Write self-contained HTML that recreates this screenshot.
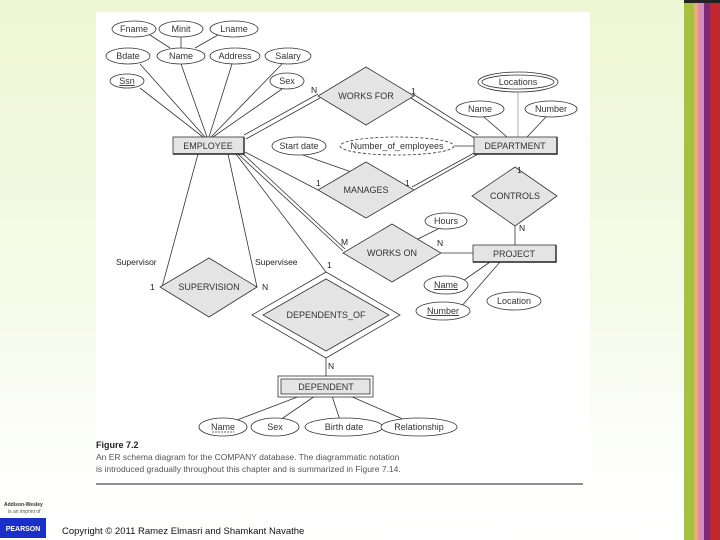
<!DOCTYPE html>
<html><head><meta charset="utf-8"><style>
html,body{margin:0;padding:0}
body{width:720px;height:540px;background:#fbfdf6;position:relative;overflow:hidden;font-family:"Liberation Sans",sans-serif}
svg{position:absolute;left:0;top:0}
</style></head><body>
<svg width="720" height="540" viewBox="0 0 720 540" font-family="Liberation Sans, sans-serif">
<defs>
<linearGradient id="v" x1="0" y1="0" x2="0" y2="1"><stop offset="0" stop-color="#eef7d4"/><stop offset="0.5" stop-color="#f5fae6"/><stop offset="0.85" stop-color="#fdfefa"/><stop offset="1" stop-color="#ffffff"/></linearGradient>
</defs>
<rect x="0" y="0" width="684" height="540" fill="url(#v)"/>
<rect x="96" y="12" width="494" height="476" fill="#fff"/>
<!-- right stripes -->
<rect x="684" y="0" width="10" height="540" fill="#a8c040"/>
<rect x="694" y="0" width="4" height="540" fill="#e8b070"/>
<rect x="698" y="0" width="6" height="540" fill="#d88ab8"/>
<rect x="704" y="0" width="6" height="540" fill="#7a2a78"/>
<rect x="710" y="0" width="10" height="540" fill="#c02830"/>
<rect x="684" y="0" width="36" height="3" fill="#222"/>

<g stroke="#333" stroke-width="0.8" fill="none">
<line x1="181" y1="36" x2="181" y2="48"/>
<line x1="150" y1="35" x2="170" y2="48"/><line x1="218" y1="35" x2="195" y2="48"/>
<line x1="140" y1="64" x2="205" y2="137"/>
<line x1="181" y1="64" x2="207" y2="137"/>
<line x1="232" y1="64" x2="209" y2="137"/>
<line x1="282" y1="64" x2="211" y2="137"/>
<line x1="140" y1="88" x2="203" y2="137"/>
<line x1="282" y1="89" x2="213" y2="137"/>
<line x1="244" y1="135" x2="318" y2="94"/><line x1="246" y1="139" x2="320" y2="98"/>
<line x1="413" y1="94" x2="478" y2="135"/><line x1="411" y1="98" x2="476" y2="139"/>
<line x1="518" y1="91" x2="518" y2="137" stroke="#999"/>
<line x1="484" y1="117" x2="507" y2="137"/>
<line x1="546" y1="117" x2="527" y2="137"/>
<line x1="455" y1="146" x2="474" y2="146"/>
<line x1="300" y1="154" x2="360" y2="175"/>
<line x1="245" y1="152" x2="318" y2="190"/>
<line x1="414" y1="190" x2="478" y2="154"/><line x1="412" y1="187" x2="476" y2="152"/>
<line x1="515" y1="226" x2="515" y2="245"/>
<line x1="238" y1="154" x2="343" y2="251"/><line x1="241" y1="152" x2="345" y2="249"/>
<line x1="441" y1="253" x2="473" y2="253"/>
<line x1="416" y1="240" x2="438" y2="229"/>
<line x1="490" y1="262" x2="460" y2="283"/>
<line x1="500" y1="262" x2="460" y2="308"/>
<line x1="198" y1="154" x2="162" y2="287"/>
<line x1="228" y1="154" x2="257" y2="287"/>
<line x1="236" y1="154" x2="326" y2="272"/>
<line x1="326" y1="358" x2="326" y2="376"/>
<line x1="300" y1="396" x2="237" y2="420"/>
<line x1="315" y1="396" x2="280" y2="420"/>
<line x1="332" y1="396" x2="340" y2="420"/>
<line x1="350" y1="396" x2="405" y2="420"/>
</g>

<g stroke="#333" stroke-width="0.8" fill="#fff">
<ellipse cx="134" cy="29" rx="22" ry="8"/>
<ellipse cx="181" cy="29" rx="22" ry="8"/>
<ellipse cx="234" cy="29" rx="24" ry="8"/>
<ellipse cx="128" cy="56" rx="22" ry="8"/>
<ellipse cx="181" cy="56" rx="24" ry="8"/>
<ellipse cx="235" cy="56" rx="25" ry="8"/>
<ellipse cx="288" cy="56" rx="23" ry="8"/>
<ellipse cx="127" cy="81" rx="17" ry="7"/>
<ellipse cx="287" cy="81" rx="17" ry="8"/>
<ellipse cx="518" cy="82" rx="40" ry="10"/><ellipse cx="518" cy="82" rx="36" ry="7"/>
<ellipse cx="480" cy="109" rx="24" ry="8"/>
<ellipse cx="551" cy="109" rx="26" ry="8"/>
<ellipse cx="299" cy="146" rx="27" ry="9"/>
<ellipse cx="397" cy="146" rx="57" ry="9" stroke-dasharray="3,2"/>
<ellipse cx="446" cy="221" rx="21" ry="8"/>
<ellipse cx="446" cy="285" rx="22" ry="9"/>
<ellipse cx="443" cy="311" rx="27" ry="9"/>
<ellipse cx="514" cy="301" rx="27" ry="9"/>
<ellipse cx="223" cy="427" rx="24" ry="9"/>
<ellipse cx="275" cy="427" rx="24" ry="9"/>
<ellipse cx="344" cy="427" rx="39" ry="9"/>
<ellipse cx="419" cy="427" rx="38" ry="9"/>
</g>

<g stroke="#333" stroke-width="0.8" fill="#e4e4e4">
<polygon points="366,67 414,96 366,125 318,96"/>
<polygon points="366,162 414,190 366,218 318,190"/>
<polygon points="515,167 557,196 515,226 472,196"/>
<polygon points="392,224 441,253 392,282 343,253"/>
<polygon points="209,258 257,287 209,317 160,287"/>
<polygon points="326,272 400,315 326,358 252,315" fill="#fff"/>
<polygon points="326,279 389,315 326,351 263,315"/>
<rect x="173" y="137" width="71" height="17"/>
<rect x="474" y="137" width="83" height="17"/>
<rect x="473" y="245" width="83" height="17"/>
<rect x="278" y="376" width="95" height="21" fill="#fff"/>
<rect x="281" y="379" width="89" height="15"/>
</g>
<g stroke="#222" stroke-width="1.4" fill="none">
<polyline points="173,154 244,154 244,137"/>
<polyline points="474,154 557,154 557,137"/>
<polyline points="473,262 556,262 556,245"/>
</g>

<g font-size="9" fill="#333" text-anchor="middle">
<text x="134" y="32">Fname</text><text x="181" y="32">Minit</text><text x="234" y="32">Lname</text>
<text x="128" y="59">Bdate</text><text x="181" y="59">Name</text><text x="235" y="59">Address</text><text x="288" y="59">Salary</text>
<text x="127" y="84" text-decoration="underline">Ssn</text><text x="287" y="84">Sex</text>
<text x="518" y="85">Locations</text><text x="480" y="112">Name</text><text x="551" y="112">Number</text>
<text x="299" y="149">Start date</text><text x="397" y="149">Number_of_employees</text>
<text x="446" y="224">Hours</text>
<text x="446" y="288" text-decoration="underline">Name</text>
<text x="443" y="314" text-decoration="underline">Number</text>
<text x="514" y="304">Location</text>
<text x="223" y="430">Name</text><text x="275" y="430">Sex</text><text x="344" y="430">Birth date</text><text x="419" y="430">Relationship</text>
<text x="208" y="149">EMPLOYEE</text><text x="515" y="149">DEPARTMENT</text><text x="514" y="257">PROJECT</text>
<text x="326" y="390">DEPENDENT</text>
<text x="366" y="99">WORKS FOR</text><text x="366" y="193">MANAGES</text><text x="515" y="199">CONTROLS</text>
<text x="392" y="256">WORKS ON</text><text x="209" y="290">SUPERVISION</text><text x="326" y="318">DEPENDENTS_OF</text>
</g>
<line x1="212" y1="432" x2="234" y2="432" stroke="#333" stroke-width="0.8" stroke-dasharray="2,1"/>
<g font-size="8.5" fill="#222">
<text x="311" y="93">N</text><text x="411" y="94">1</text>
<text x="316" y="186">1</text><text x="405" y="186">1</text>
<text x="517" y="173">1</text><text x="519" y="231">N</text>
<text x="341" y="245">M</text><text x="437" y="246">N</text>
<text x="327" y="268">1</text><text x="328" y="369">N</text>
<text x="150" y="290">1</text><text x="262" y="290">N</text>
<text x="116" y="265">Supervisor</text><text x="255" y="265">Supervisee</text>
</g>
<text x="96" y="448" font-size="9" font-weight="bold" fill="#222">Figure 7.2</text>
<text x="96" y="460" font-size="8.5" fill="#555">An ER schema diagram for the COMPANY database. The diagrammatic notation</text>
<text x="96" y="472" font-size="8.5" fill="#555">is introduced gradually throughout this chapter and is summarized in Figure 7.14.</text>
<line x1="96" y1="484" x2="583" y2="484" stroke="#222" stroke-width="1"/>
<text x="4" y="506" font-size="5" font-weight="bold" fill="#333">Addison-Wesley</text>
<text x="8" y="513" font-size="5" fill="#555">is an imprint of</text>
<rect x="0" y="518" width="46" height="20" fill="#1a2fc8"/>
<text x="23" y="531" font-size="7" font-weight="bold" fill="#fff" text-anchor="middle">PEARSON</text>
<text x="62" y="534" font-size="9.5" fill="#111">Copyright © 2011 Ramez Elmasri and Shamkant Navathe</text>
</svg>
</body></html>
